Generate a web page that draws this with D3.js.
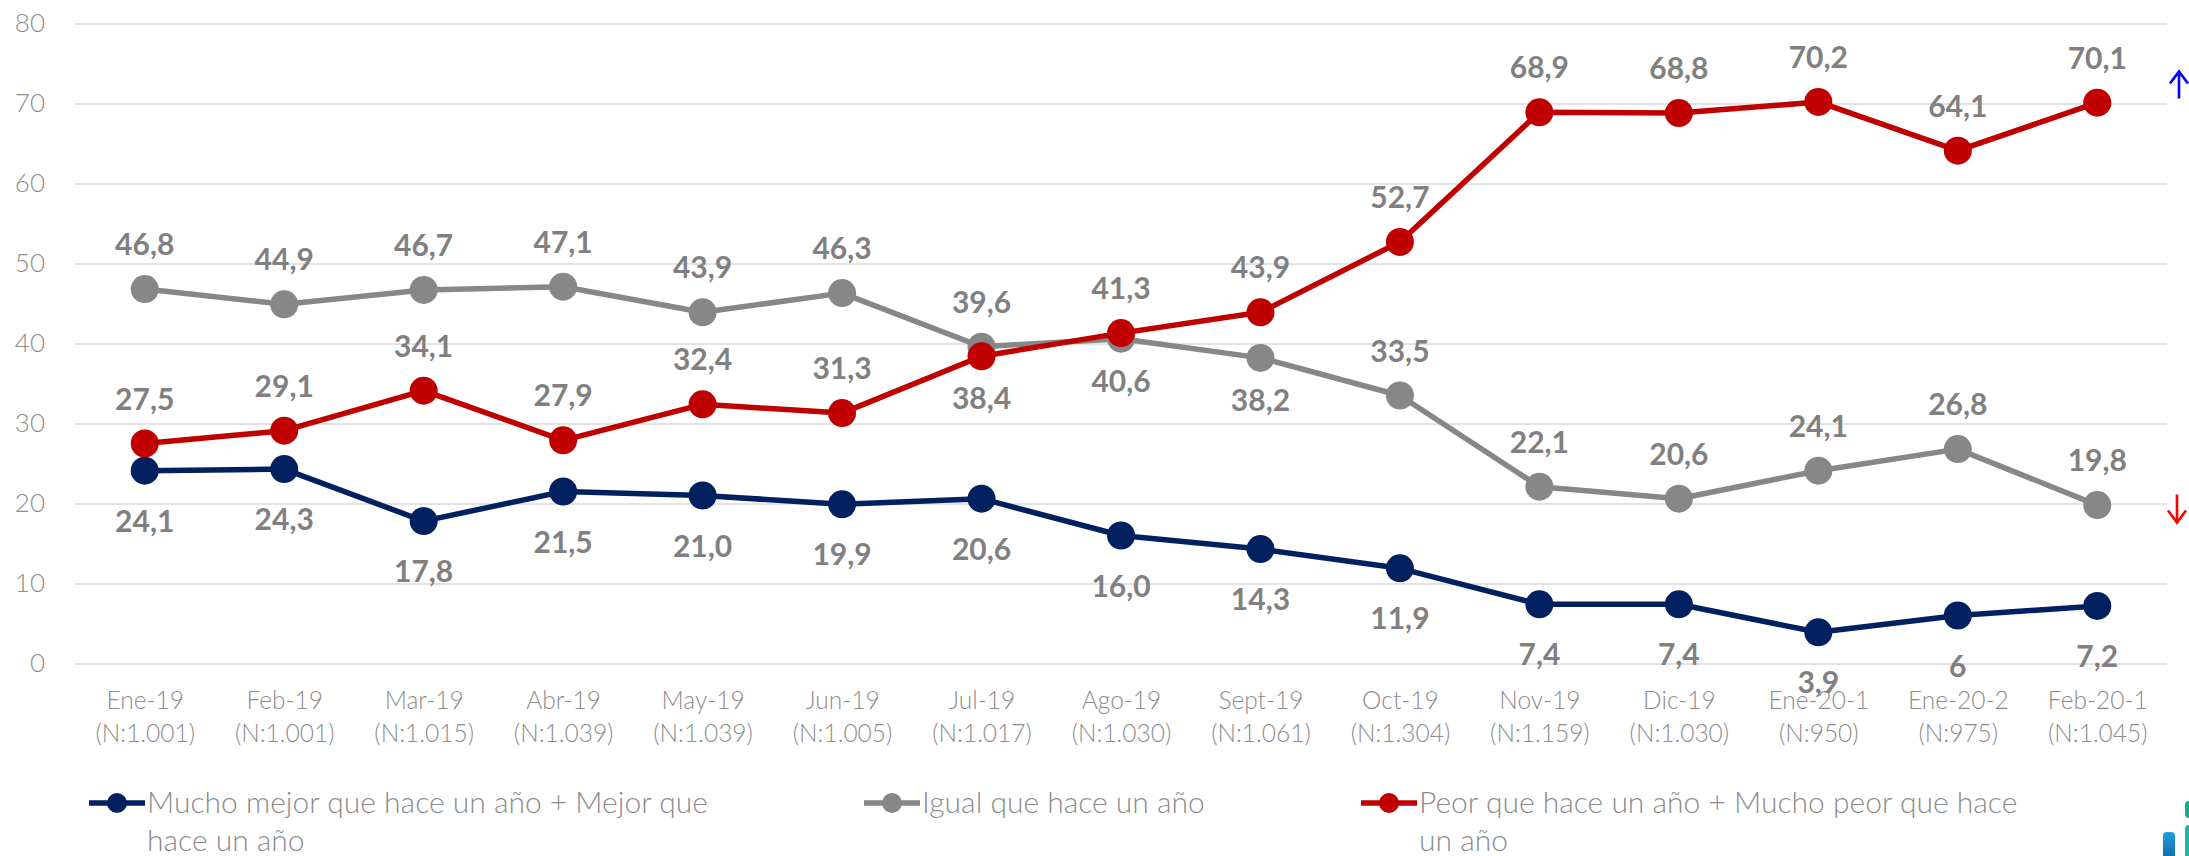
<!DOCTYPE html>
<html lang="es">
<head>
    <meta charset="UTF-8">
    <title>Situación económica</title>
    <script src="https://d3js.org/d3.v7.min.js"></script>
    <style>
        body { margin: 0; background: #fff; }
        svg text { font-family: Lato, "Open Sans", sans-serif; }
    </style>
</head>
<body>
<div id="chart"></div>
<script>
    // categories (two line tick labels)
    var months = ["Ene-19", "Feb-19", "Mar-19", "Abr-19", "May-19", "Jun-19", "Jul-19", "Ago-19",
        "Sept-19", "Oct-19", "Nov-19", "Dic-19", "Ene-20-1", "Ene-20-2", "Feb-20-1"];
    var samples = ["(N:1.001)", "(N:1.001)", "(N:1.015)", "(N:1.039)", "(N:1.039)", "(N:1.005)", "(N:1.017)",
        "(N:1.030)", "(N:1.061)", "(N:1.304)", "(N:1.159)", "(N:1.030)", "(N:950)", "(N:975)", "(N:1.045)"];

    // values as printed on the chart
    var mejor = ["24,1", "24,3", "17,8", "21,5", "21,0", "19,9", "20,6", "16,0", "14,3", "11,9", "7,4", "7,4", "3,9", "6", "7,2"];
    var igual = ["46,8", "44,9", "46,7", "47,1", "43,9", "46,3", "39,6", "40,6", "38,2", "33,5", "22,1", "20,6", "24,1", "26,8", "19,8"];
    var peor = ["27,5", "29,1", "34,1", "27,9", "32,4", "31,3", "38,4", "41,3", "43,9", "52,7", "68,9", "68,8", "70,2", "64,1", "70,1"];

    // label side for each point: 1 = above, -1 = below
    var mejorSide = [-1, -1, -1, -1, -1, -1, -1, -1, -1, -1, -1, -1, -1, -1, -1];
    var igualSide = [1, 1, 1, 1, 1, 1, 1, -1, -1, 1, 1, 1, 1, 1, 1];
    var peorSide = [1, 1, 1, 1, 1, 1, -1, 1, 1, 1, 1, 1, 1, 1, 1];

    var yTicks = [0, 10, 20, 30, 40, 50, 60, 70, 80];

    var legendLines = [
        ["Mucho mejor que hace un año + Mejor que", "hace un año"],
        ["Igual que hace un año"],
        ["Peor que hace un año + Mucho peor que hace", "un año"]
    ];

    var toNum = function(s) { return parseFloat(s.replace(",", ".")); };

    var series = [
        { name: "mejor", values: mejor, side: mejorSide, color: "#002060", below: 50, legend: legendLines[0], lx: 89 },
        { name: "igual", values: igual, side: igualSide, color: "#878787", below: 42, legend: legendLines[1], lx: 864 },
        { name: "peor", values: peor, side: peorSide, color: "#C00000", below: 42, legend: legendLines[2], lx: 1361 }
    ];

    var width = 2189, height = 856;
    var plotLeft = 75, plotRight = 2167, plotTop = 23.5, plotBottom = 663.5;

    var svg = d3.select("#chart").append("svg")
        .attr("width", width)
        .attr("height", height);

    var x = d3.scalePoint()
        .domain(months)
        .range([plotLeft, plotRight])
        .padding(0.5);

    var y = d3.scaleLinear()
        .domain([0, 80])
        .range([plotBottom, plotTop]);

    // gridlines + y labels
    var yAxis = d3.axisLeft(y)
        .tickValues(yTicks)
        .tickSizeInner(-(plotRight - plotLeft))
        .tickSizeOuter(0)
        .tickPadding(30);

    var gy = svg.append("g")
        .attr("transform", "translate(" + plotLeft + ",0)")
        .call(yAxis);
    gy.select(".domain").remove();
    gy.selectAll(".tick line").attr("stroke", "#e3e3e3").attr("stroke-width", 2);
    gy.selectAll(".tick text")
        .attr("fill", "#8c8c8c")
        .style("font-size", "26px")
        .style("font-weight", 300);

    // x labels
    var xAxis = d3.axisBottom(x).tickSize(0).tickPadding(0);
    var gx = svg.append("g")
        .attr("transform", "translate(0," + plotBottom + ")")
        .call(xAxis);
    gx.select(".domain").remove();
    gx.selectAll(".tick text").each(function(d, i) {
        var t = d3.select(this).text(null)
            .attr("y", 0)
            .attr("dy", null)
            .attr("fill", "#8c8c8c")
            .style("font-size", "24.5px")
            .style("font-weight", 300);
        t.append("tspan").attr("x", 0).attr("y", 45).text(d);
        t.append("tspan").attr("x", 0).attr("y", 78).text(samples[i]);
    });

    var line = d3.line()
        .x(function(d, i) { return x(months[i]); })
        .y(function(d) { return y(toNum(d)); });

    series.forEach(function(s) {
        var g = svg.append("g").attr("class", "series-" + s.name);
        g.append("path")
            .datum(s.values)
            .attr("d", line)
            .attr("fill", "none")
            .attr("stroke", s.color)
            .attr("stroke-width", 5.5)
            .attr("stroke-linejoin", "round");
        g.selectAll("circle")
            .data(s.values)
            .enter().append("circle")
            .attr("cx", function(d, i) { return x(months[i]); })
            .attr("cy", function(d) { return y(toNum(d)); })
            .attr("r", 14)
            .attr("fill", s.color);
    });

    // data labels on top of all lines
    series.forEach(function(s) {
        svg.append("g").selectAll("text")
            .data(s.values)
            .enter().append("text")
            .attr("x", function(d, i) { return x(months[i]); })
            .attr("y", function(d, i) {
                var cy = y(toNum(d));
                return (s.side[i] > 0 ? cy - 45 : cy + s.below) + 11;
            })
            .attr("text-anchor", "middle")
            .attr("fill", "#808080")
            .style("font-size", "30px")
            .style("font-weight", 700)
            .text(function(d) { return d; });
    });

    // legend
    var legendY = 803;
    series.forEach(function(s) {
        var g = svg.append("g").attr("transform", "translate(" + s.lx + "," + legendY + ")");
        g.append("line")
            .attr("x1", 0).attr("x2", 56)
            .attr("stroke", s.color)
            .attr("stroke-width", 5.5);
        g.append("circle").attr("cx", 28).attr("r", 10).attr("fill", s.color);
        var t = g.append("text")
            .attr("fill", "#8c8c8c")
            .style("font-size", "30px")
            .style("font-weight", 300);
        s.legend.forEach(function(l, k) {
            t.append("tspan").attr("x", 58).attr("y", 10 + k * 38).text(l);
        });
    });

    // trend arrows at the right edge
    var arrows = [
        { color: "#0000ff", x: plotRight + 12, y0: y(70) - 5, y1: y(70) - 32 },
        { color: "#ff0000", x: plotRight + 10, y0: y(20) - 9, y1: y(20) + 19 }
    ];
    arrows.forEach(function(a) {
        var dir = a.y1 < a.y0 ? 1 : -1;
        svg.append("path")
            .attr("d", "M" + a.x + "," + a.y0 + "V" + a.y1 +
                "M" + (a.x - 9) + "," + (a.y1 + dir * 12) + "L" + a.x + "," + a.y1 + "L" + (a.x + 9) + "," + (a.y1 + dir * 12))
            .attr("fill", "none")
            .attr("stroke", a.color)
            .attr("stroke-width", 2.6);
    });

    // corner logo fragment
    var defs = svg.append("defs");
    var grad = defs.append("linearGradient").attr("id", "logoBlue").attr("x1", 0).attr("y1", 0).attr("x2", 0).attr("y2", 1);
    grad.append("stop").attr("offset", "0%").attr("stop-color", "#1ea0dc");
    grad.append("stop").attr("offset", "100%").attr("stop-color", "#0b4f8c");
    svg.append("rect").attr("x", 2163).attr("y", 832).attr("width", 12).attr("height", 40).attr("rx", 4).attr("fill", "url(#logoBlue)");
    svg.append("rect").attr("x", 2185).attr("y", 825).attr("width", 12).attr("height", 40).attr("rx", 4).attr("fill", "#1fb5a8");
    svg.append("rect").attr("x", 2185).attr("y", 801).attr("width", 12).attr("height", 17).attr("rx", 4).attr("fill", "#17a98a");
</script>
</body>
</html>
